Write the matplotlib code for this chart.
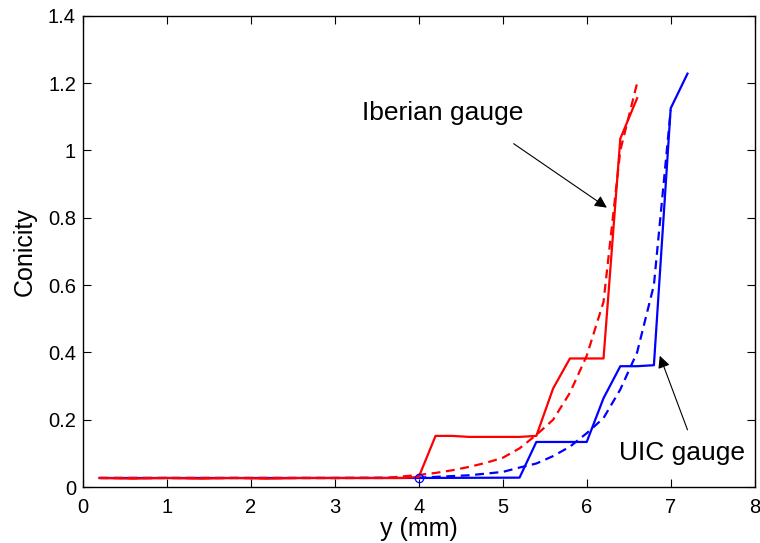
import matplotlib.pyplot as plt

plt.rcParams['font.family'] = ['Liberation Sans', 'DejaVu Sans']

# Iberian gauge (red), solid = computed, dashed = fitted
ib_x = [0.2, 0.6, 1.0, 1.4, 1.8, 2.2, 2.6, 3.0, 3.4, 3.8, 4.0, 4.2, 4.4, 4.6, 5.0, 5.2, 5.4, 5.6, 5.8, 6.0, 6.2, 6.4, 6.6]
ib_solid = [0.027, 0.025, 0.027, 0.025, 0.027, 0.025, 0.027, 0.027, 0.027, 0.027, 0.03, 0.152, 0.152, 0.149, 0.149, 0.149, 0.152, 0.293, 0.382, 0.382, 0.382, 1.035, 1.155]
ibd_x = [0.2, 1.0, 2.0, 3.0, 3.6, 4.0, 4.2, 4.4, 4.6, 4.8, 5.0, 5.2, 5.4, 5.6, 5.8, 6.0, 6.2, 6.4, 6.6]
ib_dash = [0.027, 0.027, 0.027, 0.027, 0.027, 0.036, 0.042, 0.05, 0.06, 0.072, 0.087, 0.115, 0.155, 0.2, 0.28, 0.39, 0.55, 1.0, 1.2]

# UIC gauge (blue)
uic_x = [0.2, 1.0, 2.0, 3.0, 4.0, 5.2, 5.4, 5.6, 5.8, 6.0, 6.2, 6.4, 6.6, 6.8, 7.0, 7.2]
uic_solid = [0.027, 0.027, 0.027, 0.027, 0.027, 0.028, 0.134, 0.134, 0.134, 0.134, 0.264, 0.359, 0.359, 0.362, 1.125, 1.228]
uicd_x = [0.2, 1.0, 2.0, 3.0, 4.0, 4.6, 5.0, 5.2, 5.4, 5.6, 5.8, 6.0, 6.2, 6.4, 6.6, 6.8, 7.0]
uic_dash = [0.027, 0.027, 0.027, 0.027, 0.028, 0.035, 0.045, 0.058, 0.07, 0.092, 0.12, 0.16, 0.205, 0.29, 0.40, 0.6, 1.12]

fig = plt.figure(figsize=(7.6, 5.43), dpi=100)
ax = fig.add_axes([0.109, 0.103, 0.884, 0.868])

ax.plot(uicd_x, uic_dash, color="blue", lw=1.6, ls=(0, (4, 2.5)))
ax.plot(uic_x, uic_solid, color="blue", lw=1.6)
ax.plot(ibd_x, ib_dash, color="red", lw=1.6, ls=(0, (4, 2.5)))
ax.plot(ib_x, ib_solid, color="red", lw=1.6)
ax.plot([4.0], [0.027], marker="o", mfc="none", mec="blue", ms=6, mew=0.9)

arrow = dict(arrowstyle="-|>", color="black", lw=0.8, mutation_scale=18, shrinkA=0, shrinkB=0)
ax.annotate("", xy=(6.24, 0.83), xytext=(5.13, 1.02), arrowprops=arrow)
ax.text(3.32, 1.11, "Iberian gauge", fontsize=19, va="center", ha="left")
ax.annotate("", xy=(6.87, 0.39), xytext=(7.2, 0.17), arrowprops=arrow)
ax.text(6.38, 0.10, "UIC gauge", fontsize=19, va="center", ha="left")

ax.set_xlim(0, 8)
ax.set_ylim(0, 1.4)
ax.set_xticks(range(0, 9))
ax.set_yticks([0, 0.2, 0.4, 0.6, 0.8, 1.0, 1.2, 1.4])
ax.set_yticklabels(["0", "0.2", "0.4", "0.6", "0.8", "1", "1.2", "1.4"])
ax.tick_params(direction="in", top=True, right=True, labelsize=14.5, length=6)
ax.tick_params(axis="x", pad=8)
ax.tick_params(axis="y", pad=5)
for s in ax.spines.values():
    s.set_linewidth(1.0)
ax.set_xlabel("y (mm)", fontsize=18, labelpad=0)
ax.set_ylabel("Conicity", fontsize=18, labelpad=8)

plt.savefig("out.png")
